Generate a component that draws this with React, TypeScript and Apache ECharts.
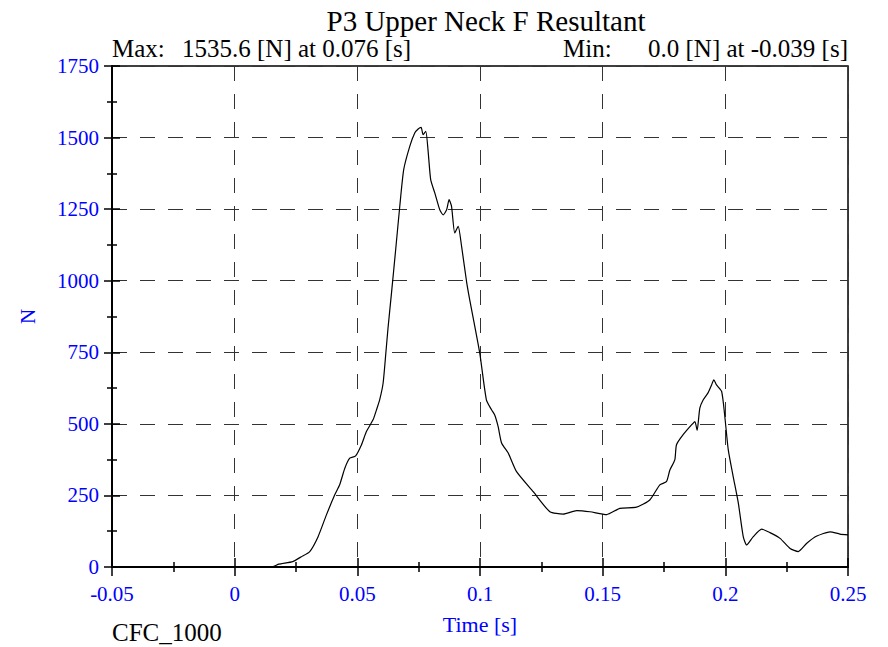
import React, { useEffect, useRef } from "react";
import * as echarts from "echarts";

const titleText = "P3 Upper Neck F Resultant";
const maxLabel = "Max:";
const maxText = "1535.6 [N] at 0.076 [s]";
const minLabel = "Min:";
const minText = "0.0 [N] at -0.039 [s]";
const filterText = "CFC_1000";
const xName = "Time [s]";
const yName = "N";

const times = [
  -0.05, -0.039, 0.008, 0.0155, 0.018, 0.0237, 0.0272, 0.0306, 0.034, 0.0374,
  0.0408, 0.0428, 0.0449, 0.0469, 0.0493, 0.0517, 0.0537, 0.0564, 0.0578, 0.0591,
  0.0605, 0.0616, 0.0625, 0.0639, 0.0657, 0.0673, 0.0689, 0.0714, 0.0734, 0.0748,
  0.076, 0.0768, 0.0779, 0.0788, 0.0799, 0.0816, 0.0836, 0.085, 0.0864, 0.0874,
  0.0884, 0.0897, 0.0911, 0.0925, 0.0945, 0.0958, 0.0999, 0.1026, 0.1047, 0.106,
  0.1074, 0.1088, 0.1115, 0.1149, 0.1217, 0.1285, 0.1339, 0.1394, 0.1448, 0.1516,
  0.157, 0.1638, 0.1692, 0.1733, 0.176, 0.1774, 0.1794, 0.1801, 0.1828, 0.1863,
  0.1876, 0.1885, 0.1896, 0.191, 0.193, 0.1944, 0.1953, 0.1964, 0.1985, 0.1998,
  0.2012, 0.2032, 0.2053, 0.2073, 0.2087, 0.2114, 0.2148, 0.2182, 0.2223, 0.2264,
  0.2297, 0.2332, 0.2373, 0.2427, 0.2467, 0.25,
];

const forces = [
  0, 0, 0, 1, 10, 19, 36, 54, 106, 182,
  252, 287, 345, 380, 388, 427, 473, 514, 549, 584,
  642, 745, 834, 955, 1115, 1260, 1388, 1470, 1516, 1530,
  1535.6, 1510, 1522, 1458, 1353, 1306, 1248, 1230, 1248, 1283,
  1260, 1167, 1190, 1120, 998, 934, 747, 584, 549, 531,
  490, 433, 398, 333, 263, 193, 185, 197, 193, 183,
  205, 209, 234, 287, 298, 339, 374, 427, 462, 497,
  508, 477, 555, 584, 609, 636, 654, 636, 613, 525,
  409, 316, 223, 106, 77, 106, 132, 120, 100, 65,
  54, 83, 108, 123, 115, 112,
];

const xMin = -0.05;
const xMax = 0.25;
const xStep = 0.05;
const yMin = 0;
const yMax = 1750;
const yStep = 250;

const FONT = "'Liberation Serif', 'Times New Roman', serif";
const BLUE = "#0000ff";

export default function App() {
  const ref = useRef<HTMLDivElement>(null);

  useEffect(() => {
    if (!ref.current) return;
    const chart = echarts.init(ref.current, undefined, { renderer: "svg" });
    const data = times.map((t, i) => [t, forces[i]]);
    const fmtX = (v: number) => String(Math.round(v * 1000) / 1000);
    const fmtY = (v: number) => String(Math.round(v));
    const baseX = {
      type: "value" as const,
      min: xMin,
      max: xMax,
      interval: xStep,
      position: "bottom" as const,
    };
    const baseY = {
      type: "value" as const,
      min: yMin,
      max: yMax,
      interval: yStep,
      position: "left" as const,
    };
    const tickStyle = { color: "#000", width: 1.5 };
    chart.setOption({
      animation: false,
      backgroundColor: "#ffffff",
      grid: {
        left: 112,
        right: 40,
        top: 66,
        bottom: 80,
        show: true,
        borderColor: "#000",
        borderWidth: 1.5,
        backgroundColor: "transparent",
      },
      xAxis: [
        {
          ...baseX,
          name: xName,
          nameLocation: "middle",
          nameGap: 46,
          nameTextStyle: { color: BLUE, fontFamily: FONT, fontSize: 22 },
          axisLine: { show: true, onZero: false, lineStyle: { color: "#000", width: 2 } },
          axisTick: { show: true, inside: false, length: 9, lineStyle: tickStyle },
          minorTick: { show: true, splitNumber: 2, length: 5, lineStyle: tickStyle },
          axisLabel: {
            color: BLUE,
            fontFamily: FONT,
            fontSize: 21,
            margin: 16,
            formatter: fmtX,
          },
          splitLine: {
            show: true,
            lineStyle: { color: "#333", width: 1, type: [15, 13] },
          },
        },
        {
          ...baseX,
          axisLine: { show: false, onZero: false },
          axisTick: { show: true, inside: true, length: 9, lineStyle: tickStyle },
          minorTick: { show: true, splitNumber: 2, length: 5, lineStyle: tickStyle },
          axisLabel: { show: false },
          splitLine: { show: false },
        },
      ],
      yAxis: [
        {
          ...baseY,
          name: yName,
          nameLocation: "middle",
          nameGap: 74,
          nameRotate: 90,
          nameTextStyle: { color: BLUE, fontFamily: FONT, fontSize: 21 },
          axisLine: { show: true, onZero: false, lineStyle: { color: "#000", width: 2 } },
          axisTick: { show: true, inside: false, length: 8, lineStyle: tickStyle },
          minorTick: { show: true, splitNumber: 2, length: 5, lineStyle: tickStyle },
          axisLabel: { color: BLUE, fontFamily: FONT, fontSize: 21, margin: 13, formatter: fmtY },
          splitLine: {
            show: true,
            lineStyle: { color: "#333", width: 1, type: [15, 13] },
          },
        },
        {
          ...baseY,
          axisLine: { show: false, onZero: false },
          axisTick: { show: true, inside: true, length: 8, lineStyle: tickStyle },
          minorTick: { show: true, splitNumber: 2, length: 5, lineStyle: tickStyle },
          axisLabel: { show: false },
          splitLine: { show: false },
        },
      ],
      graphic: [
        {
          type: "text",
          x: 486,
          y: 21,
          style: { text: titleText, fill: "#000", font: `29px ${FONT}`, align: "center", verticalAlign: "middle" },
        },
        {
          type: "text",
          x: 112,
          y: 48.5,
          style: { text: maxLabel, fill: "#000", font: `25px ${FONT}`, verticalAlign: "middle" },
        },
        {
          type: "text",
          x: 182,
          y: 48.5,
          style: { text: maxText, fill: "#000", font: `25px ${FONT}`, verticalAlign: "middle" },
        },
        {
          type: "text",
          x: 563,
          y: 48.5,
          style: { text: minLabel, fill: "#000", font: `25px ${FONT}`, verticalAlign: "middle" },
        },
        {
          type: "text",
          x: 848,
          y: 48.5,
          style: { text: minText, fill: "#000", font: `25px ${FONT}`, align: "right", verticalAlign: "middle" },
        },
        {
          type: "text",
          x: 112,
          y: 632,
          style: { text: filterText, fill: "#000", font: `25px ${FONT}`, verticalAlign: "middle" },
        },
      ],
      series: [
        {
          type: "line",
          xAxisIndex: 0,
          yAxisIndex: 0,
          data,
          showSymbol: false,
          symbol: "none",
          smooth: 0.2,
          lineStyle: { color: "#000", width: 1.2 },
          z: 5,
        },
      ],
    });
    return () => chart.dispose();
  }, []);

  return (
    <div
      ref={ref}
      style={{ position: "absolute", left: 0, top: 0, width: 888, height: 647 }}
    />
  );
}
